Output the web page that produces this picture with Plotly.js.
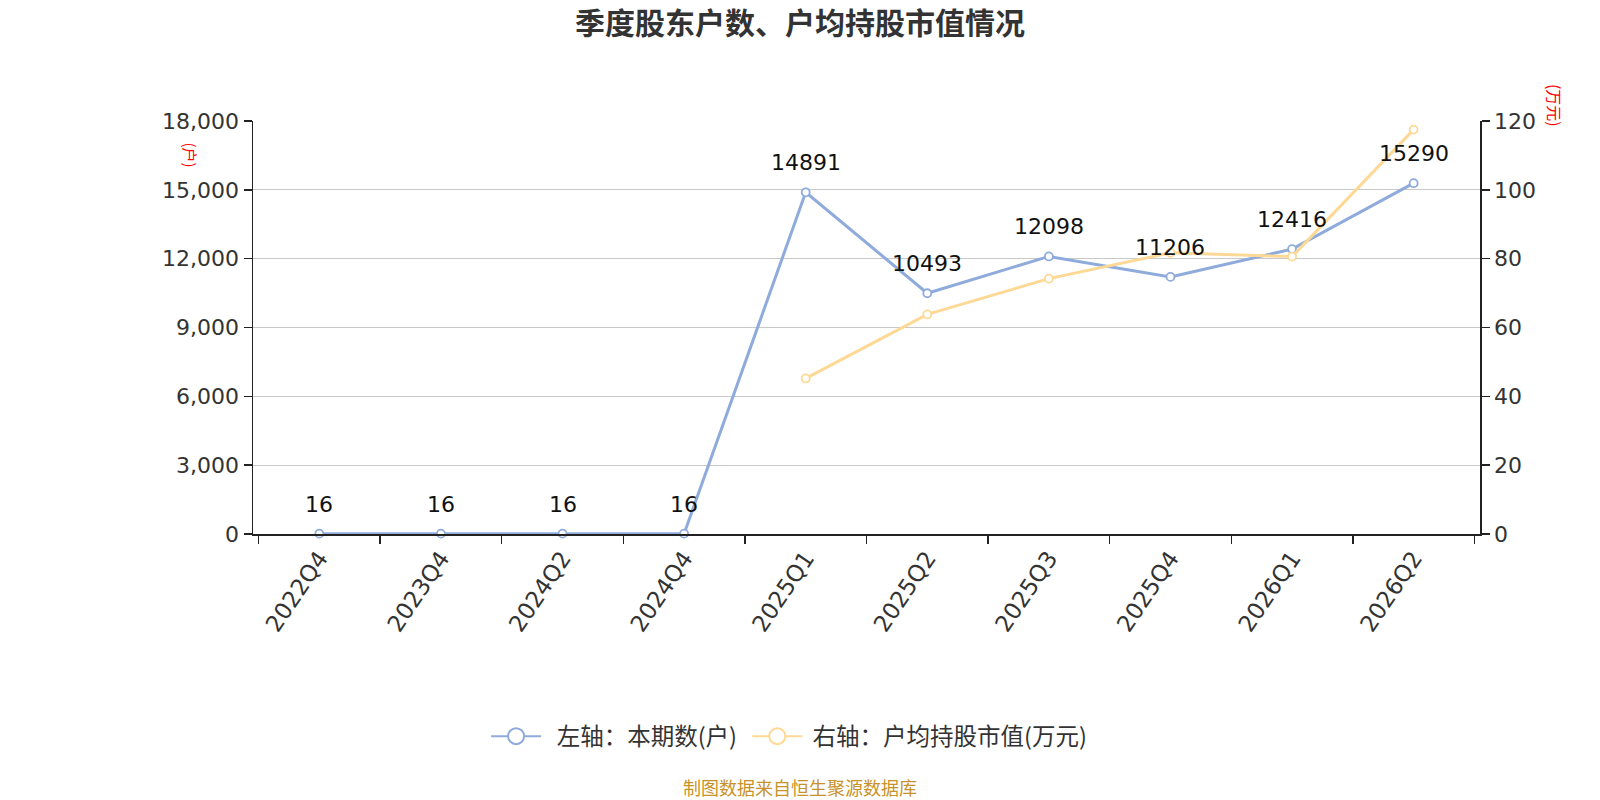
<!DOCTYPE html>
<html>
<head>
<meta charset="utf-8">
<script src="https://cdn.plot.ly/plotly-3.0.1.min.js"></script>
<style>
  html, body { margin: 0; padding: 0; background: #fff; }
  #chart { width: 1600px; height: 800px; }
</style>
</head>
<body>
<div id="chart"></div>
<script>
const quarters = ['2022Q4', '2023Q4', '2024Q2', '2024Q4', '2025Q1', '2025Q2', '2025Q3', '2025Q4', '2026Q1', '2026Q2']
const holders = [16, 16, 16, 16, 14891, 10493, 12098, 11206, 12416, 15290]
const avgValue = [null, null, null, null, 45.2, 63.8, 74.2, 81.7, 80.6, 117.5]
const leftTicks = [0, 3000, 6000, 9000, 12000, 15000, 18000]
const rightTicks = [0, 20, 40, 60, 80, 100, 120]
const seriesNames = ['左轴：本期数(户)', '右轴：户均持股市值(万元)']

const FONT = 'Noto Sans CJK SC, Noto Sans, sans-serif'
const NUM_FONT = 'DejaVu Sans, Noto Sans CJK SC, sans-serif'
const blue = '#8eabdb'
const orange = '#fdd995'
const NB = '\u00a0'

const data = [
  {
    x: quarters,
    y: holders,
    name: seriesNames[0],
    type: 'scatter',
    mode: 'lines+markers',
    showlegend: false,
    line: { color: blue, width: 3 },
    marker: { symbol: 'circle', size: 8, color: '#fff', line: { color: blue, width: 1.8 } },
    cliponaxis: false
  },
  {
    x: quarters,
    y: avgValue,
    yaxis: 'y2',
    name: seriesNames[1],
    type: 'scatter',
    mode: 'lines+markers',
    showlegend: false,
    line: { color: orange, width: 3 },
    marker: { symbol: 'circle', size: 8, color: '#fff', line: { color: orange, width: 1.8 } },
    cliponaxis: false,
    connectgaps: false
  },
  // legend entries only (bigger symbols than the plotted markers)
  {
    x: [null], y: [null],
    name: NB + NB + seriesNames[0] + NB,
    type: 'scatter',
    mode: 'lines+markers',
    line: { color: blue, width: 2 },
    marker: { symbol: 'circle', size: 16, color: '#fff', line: { color: blue, width: 2 } }
  },
  {
    x: [null], y: [null],
    name: NB + seriesNames[1],
    type: 'scatter',
    mode: 'lines+markers',
    line: { color: orange, width: 2 },
    marker: { symbol: 'circle', size: 16, color: '#fff', line: { color: orange, width: 2 } }
  }
]

// value labels above the blue points
const valueLabels = quarters.map((q, i) => ({
  x: q,
  y: holders[i],
  xref: 'x',
  yref: 'y',
  text: String(holders[i]),
  showarrow: false,
  xanchor: 'center',
  yanchor: 'bottom',
  yshift: 15,
  font: { family: NUM_FONT, size: 22, color: '#111' }
}))

const layout = {
  width: 1600,
  height: 800,
  margin: { l: 253, r: 120, t: 121, b: 266 },
  paper_bgcolor: '#fff',
  plot_bgcolor: '#fff',
  font: { family: FONT, color: '#333' },
  showlegend: true,
  title: {
    text: '季度股东户数、户均持股市值情况',
    font: { family: FONT, size: 30, color: '#333', weight: 'bold' },
    x: 0.5,
    xanchor: 'center',
    y: 0.971,
    yanchor: 'middle'
  },
  legend: {
    orientation: 'h',
    x: 0.19,
    xanchor: 'left',
    y: -0.49,
    yanchor: 'middle',
    font: { family: FONT, size: 23.5, color: '#333' },
    itemsizing: 'trace',
    itemwidth: 50
  },
  xaxis: {
    type: 'category',
    tickangle: -56,
    tickfont: { family: NUM_FONT, size: 23, color: '#333' },
    showgrid: false,
    showline: true,
    linecolor: '#222',
    linewidth: 1.5,
    ticks: 'outside',
    tickson: 'boundaries',
    ticklen: 8,
    tickwidth: 1.5,
    tickcolor: '#222',
    zeroline: false
  },
  yaxis: {
    range: [0, 18000],
    tickvals: leftTicks,
    ticktext: leftTicks.map(v => v.toLocaleString('en-US')),
    tickfont: { family: NUM_FONT, size: 22, color: '#333' },
    showgrid: true,
    gridcolor: '#c8c8c8',
    gridwidth: 1,
    showline: true,
    linecolor: '#222',
    linewidth: 1.5,
    ticks: 'outside',
    ticklen: 8,
    tickwidth: 1.5,
    tickcolor: '#222',
    zeroline: false
  },
  yaxis2: {
    overlaying: 'y',
    side: 'right',
    range: [0, 120],
    tickvals: rightTicks,
    tickfont: { family: NUM_FONT, size: 22, color: '#333' },
    showgrid: false,
    showline: true,
    linecolor: '#222',
    linewidth: 1.5,
    ticks: 'outside',
    ticklen: 8,
    tickwidth: 1.5,
    tickcolor: '#222',
    zeroline: false
  },
  annotations: valueLabels.concat([
    {
      text: '(户)',
      xref: 'paper', yref: 'paper',
      x: -0.0505, y: 0.919,
      xanchor: 'center', yanchor: 'middle',
      textangle: 90,
      showarrow: false,
      font: { family: FONT, size: 15, color: '#ff0000' }
    },
    {
      text: '(万元)',
      xref: 'paper', yref: 'paper',
      x: 1.0606, y: 1.038,
      xanchor: 'center', yanchor: 'middle',
      textangle: 90,
      showarrow: false,
      font: { family: FONT, size: 16, color: '#ff0000' }
    },
    {
      text: '制图数据来自恒生聚源数据库',
      xref: 'paper', yref: 'paper',
      x: 0.4458, y: -0.612,
      xanchor: 'center', yanchor: 'middle',
      showarrow: false,
      font: { family: FONT, size: 18, color: '#c8922a' }
    }
  ])
}

const config = { displayModeBar: false, responsive: false, staticPlot: true }

Plotly.newPlot('chart', data, layout, config)
</script>
</body>
</html>
